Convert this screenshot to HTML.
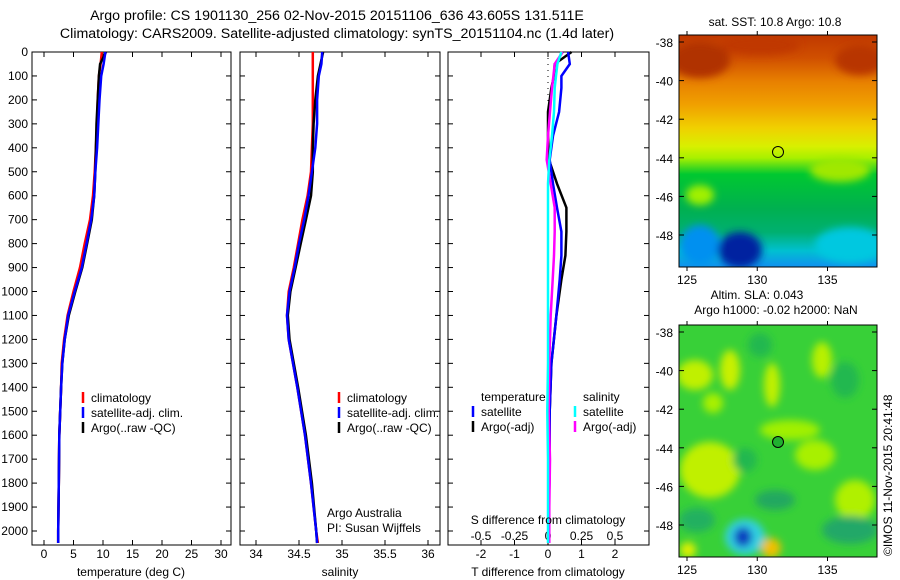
<!DOCTYPE html>
<html><head><meta charset="utf-8">
<style>
body{margin:0;background:#fff;}
svg{display:block;font-family:"Liberation Sans",sans-serif;font-size:12px;}
</style></head>
<body>
<svg id="chart" width="900" height="580" viewBox="0 0 900 580" xmlns="http://www.w3.org/2000/svg">
<defs>
<linearGradient id="sstGrad" x1="0" y1="0" x2="0" y2="1">
<stop offset="0" stop-color="#c03800"/>
<stop offset="0.1" stop-color="#d05000"/>
<stop offset="0.2" stop-color="#e88000"/>
<stop offset="0.3" stop-color="#f0a000"/>
<stop offset="0.4" stop-color="#f0d000"/>
<stop offset="0.48" stop-color="#d8f000"/>
<stop offset="0.53" stop-color="#a8f000"/>
<stop offset="0.6" stop-color="#00c830"/>
<stop offset="0.75" stop-color="#00b050"/>
<stop offset="0.85" stop-color="#00b070"/>
<stop offset="0.93" stop-color="#00c0d0"/>
<stop offset="1" stop-color="#1090f0"/>
</linearGradient>
<clipPath id="clipTop"><rect x="679" y="35" width="198" height="232"/></clipPath>
<clipPath id="clipBot"><rect x="679" y="325" width="198" height="232"/></clipPath>
<filter id="blur"><feGaussianBlur stdDeviation="4"/></filter>
</defs>
<g id="title" style="font-size:14.2px">
<text x="337" y="20" text-anchor="middle">Argo profile: CS 1901130_256 02-Nov-2015 20151106_636 43.605S 131.511E</text>
<text x="337" y="38" text-anchor="middle">Climatology: CARS2009. Satellite-adjusted climatology: synTS_20151104.nc (1.4d later)</text>
</g>
<g id="panels"></g>
<g id="maps">
<g clip-path="url(#clipTop)">
<rect x="679" y="35" width="198" height="232" fill="url(#sstGrad)"/>
<g filter="url(#blur)">
<ellipse cx="700" cy="60" rx="30" ry="18" fill="#b03000"/>
<ellipse cx="860" cy="60" rx="25" ry="15" fill="#b83400"/>
<ellipse cx="760" cy="45" rx="40" ry="10" fill="#c03800"/>
<ellipse cx="700" cy="245" rx="20" ry="20" fill="#0090f0"/>
<ellipse cx="740" cy="250" rx="22" ry="18" fill="#0020a0"/>
<ellipse cx="850" cy="245" rx="35" ry="18" fill="#00c8e0"/>
<ellipse cx="700" cy="195" rx="14" ry="10" fill="#a0f000"/>
<ellipse cx="840" cy="170" rx="30" ry="12" fill="#a0e800"/>
</g>
<circle cx="778" cy="152" r="5.5" fill="none" stroke="#000" stroke-width="1"/>
</g>
<rect x="679" y="35" width="198" height="232" fill="none" stroke="#000"/>
<g clip-path="url(#clipBot)">
<rect x="679" y="325" width="198" height="232" fill="#38d038"/>
<g filter="url(#blur)">
<ellipse cx="695" cy="375" rx="18" ry="15" fill="#c0f000"/>
<ellipse cx="730" cy="370" rx="10" ry="20" fill="#c8f000"/>
<ellipse cx="772" cy="385" rx="8" ry="22" fill="#c0f000"/>
<ellipse cx="822" cy="360" rx="10" ry="18" fill="#b8f000"/>
<ellipse cx="710" cy="470" rx="30" ry="28" fill="#c0f000"/>
<ellipse cx="815" cy="455" rx="20" ry="15" fill="#a8f000"/>
<ellipse cx="855" cy="500" rx="20" ry="20" fill="#b0f000"/>
<ellipse cx="790" cy="430" rx="30" ry="10" fill="#a0f000"/>
<ellipse cx="713" cy="403" rx="10" ry="10" fill="#a8f000"/>
<ellipse cx="845" cy="380" rx="14" ry="18" fill="#20b850"/>
<ellipse cx="760" cy="345" rx="12" ry="12" fill="#20b850"/>
<ellipse cx="745" cy="460" rx="12" ry="12" fill="#20b850"/>
<ellipse cx="775" cy="500" rx="20" ry="10" fill="#20a860"/>
<ellipse cx="850" cy="530" rx="28" ry="14" fill="#20a868"/>
<ellipse cx="697" cy="520" rx="18" ry="12" fill="#20b060"/>
<ellipse cx="745" cy="537" rx="20" ry="18" fill="#30d0e0"/>
<ellipse cx="743" cy="537" rx="9" ry="10" fill="#1040c0"/>
<ellipse cx="771" cy="548" rx="10" ry="10" fill="#f0c000"/>
<ellipse cx="688" cy="550" rx="8" ry="8" fill="#e0f000"/>
</g>
<circle cx="778" cy="442" r="5.5" fill="#20b030" stroke="#000" stroke-width="1"/>
</g>
<rect x="679" y="325" width="198" height="232" fill="none" stroke="#000"/>
<text x="775" y="26" text-anchor="middle">sat. SST: 10.8 Argo: 10.8</text>
<text x="757" y="299" text-anchor="middle">Altim. SLA: 0.043</text>
<text x="776" y="314" text-anchor="middle">Argo h1000: -0.02 h2000: NaN</text>
<text transform="translate(892,556) rotate(-90)">©IMOS 11-Nov-2015 20:41:48</text>
</g>
</svg>
<script>
// ---- data ----
const depths      = [0, 50, 100, 200, 300, 400, 500, 600, 700, 800, 900, 1000, 1100, 1200, 1300, 1400, 1600, 1800, 2000, 2050];
const tempClim    = [9.8, 9.6, 9.3, 9.1, 9.0, 8.8, 8.6, 8.3, 7.8, 6.9, 6.1, 5.0, 4.0, 3.4, 3.0, 2.9, 2.6, 2.5, 2.4, 2.4];
const tempSat     = [10.4, 10.1, 9.7, 9.4, 9.2, 9.0, 8.7, 8.5, 8.0, 7.2, 6.4, 5.2, 4.1, 3.5, 3.1, 2.9, 2.6, 2.5, 2.4, 2.4];
const tempArgo    = [10.5, 9.5, 9.3, 9.1, 8.9, 8.8, 8.7, 8.5, 8.1, 7.3, 6.5, 5.3, 4.2, 3.5, 3.1, 2.9, 2.6, 2.5, 2.4, 2.4];
const salClim     = [34.66, 34.66, 34.66, 34.66, 34.66, 34.65, 34.64, 34.60, 34.54, 34.49, 34.44, 34.38, 34.36, 34.38, 34.43, 34.48, 34.57, 34.64, 34.70, 34.72];
const salSat      = [34.77, 34.76, 34.73, 34.71, 34.71, 34.69, 34.65, 34.61, 34.56, 34.50, 34.45, 34.39, 34.36, 34.38, 34.43, 34.48, 34.57, 34.64, 34.70, 34.71];
const salArgo     = [34.78, 34.75, 34.72, 34.69, 34.67, 34.66, 34.66, 34.64, 34.58, 34.52, 34.46, 34.40, 34.37, 34.39, 34.44, 34.49, 34.58, 34.65, 34.70, 34.71];
const dDepths     = [0, 50, 100, 150, 250, 350, 450, 550, 650, 750, 850, 950, 1100, 1300, 1500, 1700, 1900, 2050];
const tDiffSat    = [0.60, 0.65, 0.40, 0.40, 0.33, 0.15, 0.05, 0.15, 0.27, 0.40, 0.40, 0.35, 0.25, 0.10, 0.05, 0.05, 0.03, 0.03];
const tDiffArgo   = [0.70, 0.20, 0.18, 0.10, 0.00, 0.00, 0.03, 0.27, 0.55, 0.55, 0.52, 0.40, 0.25, 0.10, 0.05, 0.05, 0.03, 0.03];
const sDiffSat    = [0.10, 0.07, 0.06, 0.05, 0.045, 0.03, 0.01, 0.00, 0.00, 0.00, 0.00, 0.00, 0.00, 0.00, -0.005, 0.00, 0.00, 0.00];
const sDiffArgo   = [0.11, 0.05, 0.04, 0.03, 0.015, 0.00, -0.01, 0.02, 0.05, 0.05, 0.045, 0.035, 0.02, 0.01, 0.005, 0.015, 0.01, 0.01];
const depthTicks  = [0,100,200,300,400,500,600,700,800,900,1000,1100,1200,1300,1400,1500,1600,1700,1800,1900,2000];
const tempTicks   = [0,5,10,15,20,25,30];
const salTicks    = [34,34.5,35,35.5,36];
const salTickLbl  = ["34","34.5","35","35.5","36"];
const tdTicks     = [-2,-1,0,1,2];
const sdTicks     = [-0.5,-0.25,0,0.25,0.5];
const sdTickLbl   = ["-0.5","-0.25","0","0.25","0.5"];
const latTicks    = [-38,-40,-42,-44,-46,-48];
const lonTicks    = [125,130,135];

const NS = "http://www.w3.org/2000/svg";
const root = document.getElementById('panels');
const TOP = 52, BOT = 545;
const yD = d => TOP + d * 0.2395;
const xT = v => 44 + v * 5.9;
const xS = v => 256 + (v - 34) * 86;
const xTD = v => 548 + v * 33.5;
const xSD = v => 548 + v * 134;

function mk(tag, attrs, parent) {
  const e = document.createElementNS(NS, tag);
  for (const k in attrs) e.setAttribute(k, attrs[k]);
  (parent || root).appendChild(e);
  return e;
}
function txt(x, y, s, anchor, parent) {
  const t = mk('text', {x: x, y: y, 'text-anchor': anchor || 'start'}, parent);
  t.textContent = s;
  return t;
}
function frame(x0, x1, name) {
  const g = mk('g', {});
  
  
  const r = mk('rect', {x: x0, y: TOP, width: x1 - x0, height: BOT - TOP, fill: 'none', stroke: '#000'}, g);
  
  
  depthTicks.forEach(d => {
    mk('line', {x1: x0, x2: x0 + 5, y1: yD(d), y2: yD(d), stroke: '#000'}, g);
    mk('line', {x1: x1, x2: x1 - 5, y1: yD(d), y2: yD(d), stroke: '#000'}, g);
  });
  return g;
}
function xticks(g, ticks, labels, fx, ly, top) {
  ticks.forEach((v, i) => {
    const x = fx(v);
    mk('line', {x1: x, x2: x, y1: BOT, y2: BOT - 5, stroke: '#000'}, g);
    if (top) mk('line', {x1: x, x2: x, y1: TOP, y2: TOP + 5, stroke: '#000'}, g);
    const t = txt(x, ly, labels[i], 'middle', g);
    
    
  });
}
function line(g, ys, xs, fx, color, name) {
  const pts = ys.map((d, i) => fx(xs[i]).toFixed(1) + ',' + yD(d).toFixed(1)).join(' ');
  const p = mk('polyline', {points: pts, fill: 'none', stroke: color, 'stroke-width': 2.5}, g);
  
  
}
function legend(g, x, y, color, label) {
  const l = mk('line', {x1: x, x2: x, y1: y - 10, y2: y + 1, stroke: color, 'stroke-width': 2.5}, g);
  
  
  const t = txt(x + 8, y, label, 'start', g);
  
  
}

depthTicks.forEach(d => {
  const t = txt(28, yD(d) + 4, String(d), 'end');
  
  
});

const g1 = frame(32, 231, 'temperature-panel');
xticks(g1, tempTicks, tempTicks.map(String), xT, 558, true);
line(g1, depths, tempClim, xT, '#ff0000', 'temp-climatology-line');
line(g1, depths, tempArgo, xT, '#000000', 'temp-argo-line');
line(g1, depths, tempSat, xT, '#0000ff', 'temp-satellite-line');
legend(g1, 83, 402, '#ff0000', 'climatology');
legend(g1, 83, 417, '#0000ff', 'satellite-adj. clim.');
legend(g1, 83, 432, '#000000', 'Argo(..raw -QC)');
const a1 = txt(131, 576, 'temperature (deg C)', 'middle', g1);



const g2 = frame(240, 440, 'salinity-panel');
xticks(g2, salTicks, salTickLbl, xS, 558, true);
line(g2, depths, salClim, xS, '#ff0000', 'sal-climatology-line');
line(g2, depths, salArgo, xS, '#000000', 'sal-argo-line');
line(g2, depths, salSat, xS, '#0000ff', 'sal-satellite-line');
legend(g2, 339, 402, '#ff0000', 'climatology');
legend(g2, 339, 417, '#0000ff', 'satellite-adj. clim.');
legend(g2, 339, 432, '#000000', 'Argo(..raw -QC)');
const n1 = txt(327, 517, 'Argo Australia', 'start', g2);


const n2 = txt(327, 532, 'PI: Susan Wijffels', 'start', g2);


const a2 = txt(340, 576, 'salinity', 'middle', g2);



const g3 = frame(448, 649, 'difference-panel');
xticks(g3, tdTicks, tdTicks.map(String), xTD, 558, false);
sdTicks.forEach((v, i) => {
  const x = xSD(v);
  mk('line', {x1: x, x2: x, y1: TOP, y2: TOP + 5, stroke: '#000'}, g3);
  const t = txt(x, 540, sdTickLbl[i], 'middle', g3);
  
  
});
const zl = mk('line', {x1: xTD(0), x2: xTD(0), y1: TOP, y2: BOT, stroke: '#000', 'stroke-dasharray': '1,5'}, g3);


line(g3, dDepths, tDiffArgo, xTD, '#000000', 't-diff-argo-line');
line(g3, dDepths, tDiffSat, xTD, '#0000ff', 't-diff-satellite-line');
line(g3, dDepths, sDiffArgo, xSD, '#ff00ff', 's-diff-argo-line');
line(g3, dDepths, sDiffSat, xSD, '#00ffff', 's-diff-satellite-line');
const lt = txt(481, 401, 'temperature', 'start', g3);


const ls = txt(583, 401, 'salinity', 'start', g3);


legend(g3, 473, 416, '#0000ff', 'satellite');
legend(g3, 473, 431, '#000000', 'Argo(-adj)');
legend(g3, 575, 416, '#00ffff', 'satellite');
legend(g3, 575, 431, '#ff00ff', 'Argo(-adj)');
const sdt = txt(548, 524, 'S difference from climatology', 'middle', g3);


const a3 = txt(548, 576, 'T difference from climatology', 'middle', g3);



const maps = document.getElementById('maps');
const lonX = v => 687 + (v - 125) * 14.05;
[[35, 267, v => 42 + (-38 - v) * 19.3], [325, 557, v => 332 + (-38 - v) * 19.3]].forEach(([y0, y1, fy]) => {
  latTicks.forEach(v => {
    const y = fy(v);
    mk('line', {x1: 679, x2: 684, y1: y, y2: y, stroke: '#000'}, maps);
    mk('line', {x1: 877, x2: 872, y1: y, y2: y, stroke: '#000'}, maps);
    const t = txt(673, y + 5, String(v), 'end', maps);
    
    
  });
  lonTicks.forEach(v => {
    const x = lonX(v);
    mk('line', {x1: x, x2: x, y1: y0, y2: y0 - 4, stroke: '#000'}, maps);
    mk('line', {x1: x, x2: x, y1: y1, y2: y1 + 4, stroke: '#000'}, maps);
    const t = txt(x, y1 + 17, String(v), 'middle', maps);
    
    
  });
});
</script>
</body></html>
